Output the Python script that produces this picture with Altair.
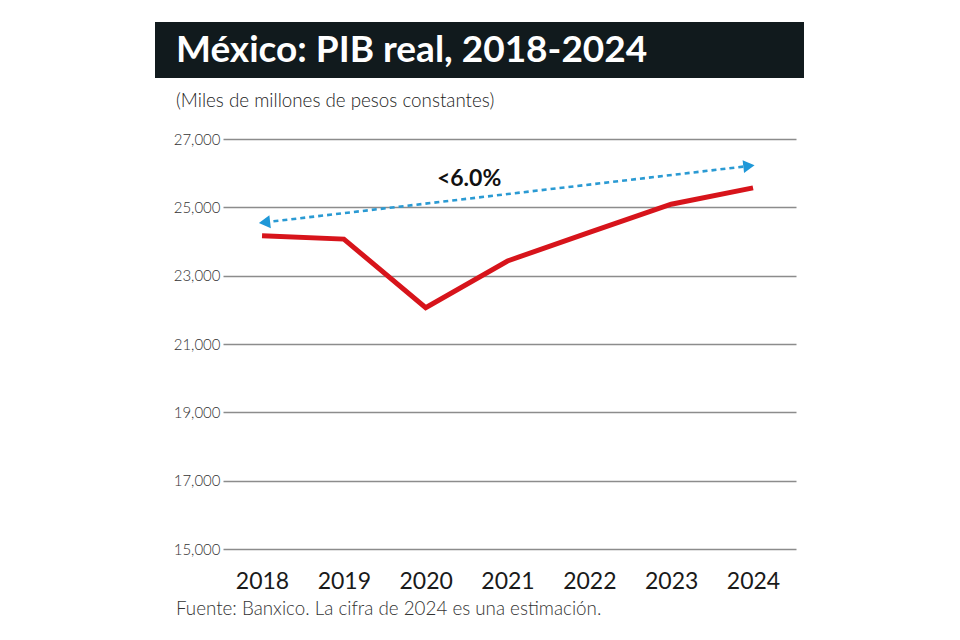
import altair as alt
import pandas as pd

# ---- data ----
years = [2018, 2019, 2020, 2021, 2022, 2023, 2024]
pib = [24170, 24070, 22060, 23430, 24270, 25090, 25570]

arrow_x = [2018.03, 2023.95]
arrow_y = [24560, 26210]
arrow_shapes = ["triangle-left", "triangle-right"]

label_text = ["<6.0%"]
label_x = [2020.53]
label_y = [25830]

y_ticks = [15000, 17000, 19000, 21000, 23000, 25000, 27000]

title_text = "México: PIB real, 2018-2024"
subtitle_text = "(Miles de millones de pesos constantes)"
source_text = "Fuente: Banxico. La cifra de 2024 es una estimación."

# ---- tables ----
df = pd.DataFrame({"year": years, "pib": pib})
arr = pd.DataFrame({"x": arrow_x, "y": arrow_y, "shape": arrow_shapes})
lab = pd.DataFrame({"x": label_x, "y": label_y, "t": label_text})

FONT = "Lato"
W, H = 573, 410
xscale = alt.Scale(domain=[2017.523, 2024.525], nice=False, zero=False)
yscale = alt.Scale(domain=[15000, 27000], nice=False, zero=False)

base = alt.Chart(df)

line = base.mark_line(color="#d7141b", strokeWidth=5, strokeCap="butt", strokeJoin="miter").encode(
    x=alt.X("year:Q", scale=xscale,
            axis=alt.Axis(values=years, format="d", title=None, grid=False, domain=False,
                          ticks=False, labelFontSize=23, labelColor="#1a1a1a", labelFont=FONT,
                          labelFontWeight="normal", labelPadding=21, labelBaseline="top")),
    y=alt.Y("pib:Q", scale=yscale,
            axis=alt.Axis(values=y_ticks, format=",d", title=None, grid=True, gridColor="#8c8c8c",
                          gridWidth=1.4, domain=False, ticks=False, labelFontSize=15,
                          labelFontWeight=300, labelColor="#333333", labelFont=FONT, labelPadding=3)),
)

arrow_line = alt.Chart(arr).mark_line(color="#2a9ad3", strokeWidth=2.6, strokeDash=[5, 4]).encode(
    x=alt.X("x:Q", scale=xscale), y=alt.Y("y:Q", scale=yscale)
)
arrow_heads = alt.Chart(arr).mark_point(filled=True, color="#1f98d8", size=170, opacity=1, angle=353.5).encode(
    x=alt.X("x:Q", scale=xscale), y=alt.Y("y:Q", scale=yscale),
    shape=alt.Shape("shape:N", scale=None, legend=None)
)

label = alt.Chart(lab).mark_text(fontSize=23, fontWeight="bold", font=FONT, color="#111111",
                                 align="center", baseline="middle").encode(
    x=alt.X("x:Q", scale=xscale), y=alt.Y("y:Q", scale=yscale), text="t:N"
)

one = pd.DataFrame({"a": [0]})
title_bg = alt.Chart(one).mark_rect(color="#111a1d", clip=False).encode(
    x=alt.value(-68), x2=alt.value(581), y=alt.value(-117), y2=alt.value(-61)
)
title = alt.Chart(one).mark_text(text=title_text, fontSize=37, fontWeight="bold", font=FONT,
                                 color="white", align="left", baseline="middle").encode(
    x=alt.value(-47), y=alt.value(-88)
)
subtitle = alt.Chart(one).mark_text(text=subtitle_text, fontSize=18.8, font=FONT, fontWeight=300,
                                    color="#222222", align="left", baseline="middle").encode(
    x=alt.value(-47), y=alt.value(-38)
)
source = alt.Chart(one).mark_text(text=source_text, fontSize=18.8, font=FONT, fontWeight=300,
                                  color="#333333", align="left", baseline="middle").encode(
    x=alt.value(-47), y=alt.value(470)
)

chart = alt.layer(line, arrow_line, arrow_heads, label, title_bg, title, subtitle, source).properties(
    width=W, height=H,
    autosize=alt.AutoSizeParams(type="none"),
    padding={"left": 215, "top": 131, "right": 150, "bottom": 90},
).configure(background="white").configure_view(stroke=None).configure_axis(domain=False, ticks=False)

chart.save("out.html", embed_options={"renderer": "svg", "actions": False})
